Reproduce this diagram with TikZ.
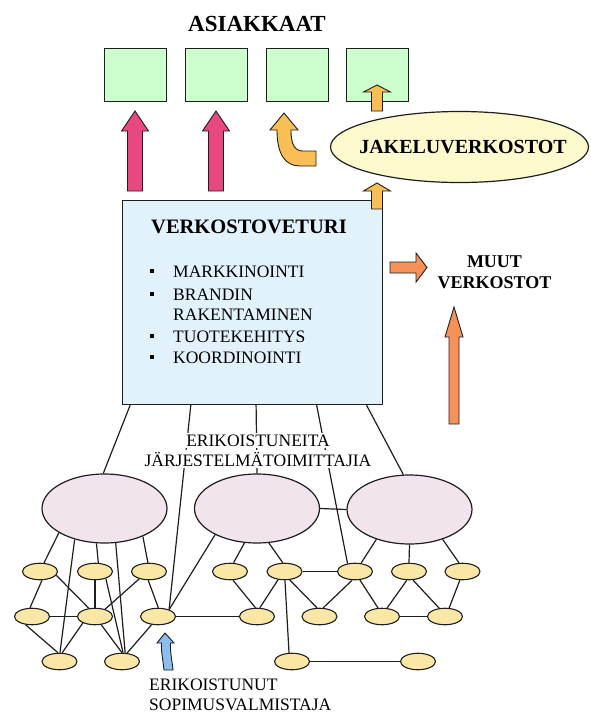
\documentclass[tikz,border=0pt]{standalone}
\usepackage{fontspec}
\setmainfont{Liberation Serif}
\usetikzlibrary{shapes.geometric}
\definecolor{boxgreen}{RGB}{204,255,204}
\definecolor{boxblue}{RGB}{226,242,252}
\definecolor{ellyellow}{RGB}{252,250,205}
\definecolor{ellpink}{RGB}{242,228,236}
\definecolor{smallyellow}{RGB}{250,230,165}
\definecolor{arrpink}{RGB}{232,72,128}
\definecolor{arrorange}{RGB}{249,190,85}
\definecolor{arrsalmon}{RGB}{247,145,90}
\definecolor{arrblue}{RGB}{140,190,238}
\definecolor{edgecol}{RGB}{30,30,30}
\newcommand\upblock[7]{%
  \draw[arrowshape, fill=#1] (#2-#6,#5) -- (#2-#6,#4) -- (#2-#7,#4) -- (#2,#3) -- (#2+#7,#4) -- (#2+#6,#4) -- (#2+#6,#5) -- cycle;}
\newcommand\fbig{\fontsize{23}{27}\selectfont\bfseries}
\newcommand\fmid{\fontsize{20.5}{24}\selectfont\bfseries}
\newcommand\fjak{\fontsize{20}{24}\selectfont\bfseries}
\newcommand\fmuut{\fontsize{18}{21}\selectfont\bfseries}
\newcommand\freg{\fontsize{17.5}{21}\selectfont}
\begin{document}
\begin{tikzpicture}[x=1pt,y=-1pt,
  conn/.style={draw=edgecol, line width=1.2pt},
  custbox/.style={draw=edgecol, line width=1.3pt, fill=boxgreen, minimum width=62pt, minimum height=53pt, inner sep=0pt},
  pinkell/.style={ellipse, draw=edgecol, line width=1.2pt, fill=ellpink, minimum width=125pt, minimum height=69pt, inner sep=0pt},
  smallell/.style={ellipse, draw=edgecol, line width=1.1pt, fill=smallyellow, minimum width=35pt, minimum height=16.5pt, inner sep=0pt},
  arrowshape/.style={draw=edgecol, line width=0.9pt},
  txt/.style={inner sep=0pt, anchor=base west},
  ctxt/.style={inner sep=0pt, anchor=base}]
\useasboundingbox (0,0) rectangle (590,716);

% title
\node[ctxt] (title) at (257,31) {\fbig ASIAKKAAT};

% customer boxes
\node[custbox] (c1) at (135.5,75) {};
\node[custbox] (c2) at (216.5,75) {};
\node[custbox] (c3) at (297.5,75) {};
\node[custbox] (c4) at (377.5,75) {};

% distribution ellipse
\node[ellipse, draw=edgecol, line width=1.2pt, fill=ellyellow, minimum width=258pt, minimum height=71pt, inner sep=0pt] (jak) at (459.5,147) {};
\node[ctxt] (jaktxt) at (463,153) {\fjak JAKELUVERKOSTOT};

% main box
\node[draw=edgecol, line width=1.3pt, fill=boxblue, minimum width=260pt, minimum height=204pt, inner sep=0pt] (box) at (252.5,302.5) {};
\node[txt] (vt) at (151,233) {\fmid VERKOSTOVETURI};
\node[fill=black, minimum size=4pt, inner sep=0pt] (b1) at (152,270.5) {};
\node[fill=black, minimum size=4pt, inner sep=0pt] (b2) at (152,293.5) {};
\node[fill=black, minimum size=4pt, inner sep=0pt] (b3) at (152,335.5) {};
\node[fill=black, minimum size=4pt, inner sep=0pt] (b4) at (152,356.5) {};
\node[txt] (l1) at (173,277) {\freg MARKKINOINTI};
\node[txt] (l2) at (173,300) {\freg BRANDIN};
\node[txt] (l3) at (173,320) {\freg RAKENTAMINEN};
\node[txt] (l4) at (173,342) {\freg TUOTEKEHITYS};
\node[txt] (l5) at (173,363) {\freg KOORDINOINTI};

% other networks
\node[ctxt] (mu1) at (494.5,267) {\fmuut MUUT};
\node[ctxt] (mu2) at (494.5,288) {\fmuut VERKOSTOT};

% block arrows
\upblock{arrpink}{135}{111}{131}{191}{7.5}{13.5}
\upblock{arrpink}{216}{111}{131}{191}{7.5}{13.5}
\upblock{arrorange}{377}{85}{92}{111}{5.5}{13.5}
\upblock{arrorange}{377}{183}{191}{209}{5.5}{13.5}
\upblock{arrsalmon}{454}{307}{337}{424}{5}{9}
\draw[arrowshape, fill=arrsalmon] (390,262) -- (416,262) -- (416,253) -- (427,267.5) -- (416,282) -- (416,273) -- (390,273) -- cycle;
\draw[arrowshape, fill=arrorange] (277,130) .. controls (277,154) and (285,166) .. (300,166) -- (316,166) -- (316,151) -- (303,151) .. controls (295,151) and (291,145) .. (291,130) -- (298,130) -- (284,113) -- (270,130) -- cycle;

% pink supplier ellipses
\node[pinkell] (P1) at (104.5,508.5) {};
\node[pinkell] (P2) at (257,508.5) {};
\node[pinkell] (P3) at (409.5,509.5) {};

% small ellipses
\node[smallell] (e11) at (40,571.5) {};
\node[smallell] (e12) at (95,571.5) {};
\node[smallell] (e13) at (149,571.5) {};
\node[smallell] (e14) at (230,571.5) {};
\node[smallell] (e15) at (284.5,571.5) {};
\node[smallell] (e16) at (355,571.5) {};
\node[smallell] (e17) at (409,571.5) {};
\node[smallell] (e18) at (462.5,571.5) {};
\node[smallell] (e21) at (32,616.5) {};
\node[smallell] (e22) at (95,616.5) {};
\node[smallell] (e23) at (158,616.5) {};
\node[smallell] (e24) at (257,616.5) {};
\node[smallell] (e25) at (319.5,616.5) {};
\node[smallell] (e26) at (382,616.5) {};
\node[smallell] (e27) at (445,616.5) {};
\node[smallell] (e31) at (59.5,661.5) {};
\node[smallell] (e32) at (122,661.5) {};
\node[smallell] (e33) at (292,661.5) {};
\node[smallell] (e34) at (418,661.5) {};

% connectors from main box
\draw[conn] (box.220.6) -- (P1.92.5);
\draw[conn] (box.239) -- (e23.32);
\draw[conn] (box.272.5) -- (P2.north);
\draw[conn] (box.302.6) -- (e16.133);
\draw[conn] (box.318.2) -- (P3.100.4);
\draw[conn] (P2.east) -- (P3.west);

% P1 group
\draw[conn] (P1.208) -- (e11.65);
\draw[conn] (P1.226) -- (e31.87);
\draw[conn] (P1.257.7) -- (e12.69);
\draw[conn] (P1.288.4) -- (e32.70.6);
\draw[conn] (P1.324.9) -- (e13.97.6);
\draw[conn] (e11.283) -- (e21.103);
\draw[conn] (e11.347) -- (e22.127.6);
\draw[conn] (e12.south) -- (e22.north);
\draw[conn] (e12.327.8) -- (e32.83);
\draw[conn] (e13.217.7) -- (e22.36.9);
\draw[conn] (e13.265) -- (e23.88);
\draw[conn] (e21.east) -- (e22.west);
\draw[conn] (e21.232) -- (e31.100);
\draw[conn] (e22.208.4) -- (e31.73.6);
\draw[conn] (e22.307.6) -- (e32.90);
\draw[conn] (e23.232.4) -- (e32.59.5);

% P2 group
\draw[conn] (P2.212.9) -- (e23.32);
\draw[conn] (e23.east) -- (e24.west);
\draw[conn] (P2.250.8) -- (e14.68);
\draw[conn] (P2.289.6) -- (e15.101);
\draw[conn] (e14.289) -- (e24.100);
\draw[conn] (e15.232.6) -- (e24.72);
\draw[conn] (e15.273) -- (e33.109);
\draw[conn] (e15.302.9) -- (e25.106);
\draw[conn] (e15.east) -- (e16.west);
\draw[conn] (e33.east) -- (e34.west);

% P3 group
\draw[conn] (e16.252) -- (e25.67.6);
\draw[conn] (e16.300.5) -- (e26.115);
\draw[conn] (P3.222.3) -- (e16.54.8);
\draw[conn] (P3.south) -- (e17.north);
\draw[conn] (P3.318.5) -- (e18.112);
\draw[conn] (e17.256.8) -- (e26.59.5);
\draw[conn] (e17.295) -- (e27.125);
\draw[conn] (e18.253.6) -- (e27.64.8);
\draw[conn] (e26.east) -- (e27.west);

% label over the connectors
\node[ctxt, fill=white, inner sep=1.5pt] (s1) at (258,446) {\freg ERIKOISTUNEITA};
\node[ctxt, fill=white, inner sep=1.5pt] (s2) at (258,466) {\freg JÄRJESTELMÄTOIMITTAJIA};

% contract manufacturer arrow and label
\draw[arrowshape, fill=arrblue] (165,633) -- (174,643) -- (170.5,643) .. controls (170,652) and (172,660) .. (173,670) -- (164,670) .. controls (163,660) and (161,652) .. (161.5,643) -- (157,643) -- cycle;
\node[txt] (m1) at (149,690) {\freg ERIKOISTUNUT};
\node[txt] (m2) at (149,710) {\freg SOPIMUSVALMISTAJA};
\end{tikzpicture}
\end{document}
